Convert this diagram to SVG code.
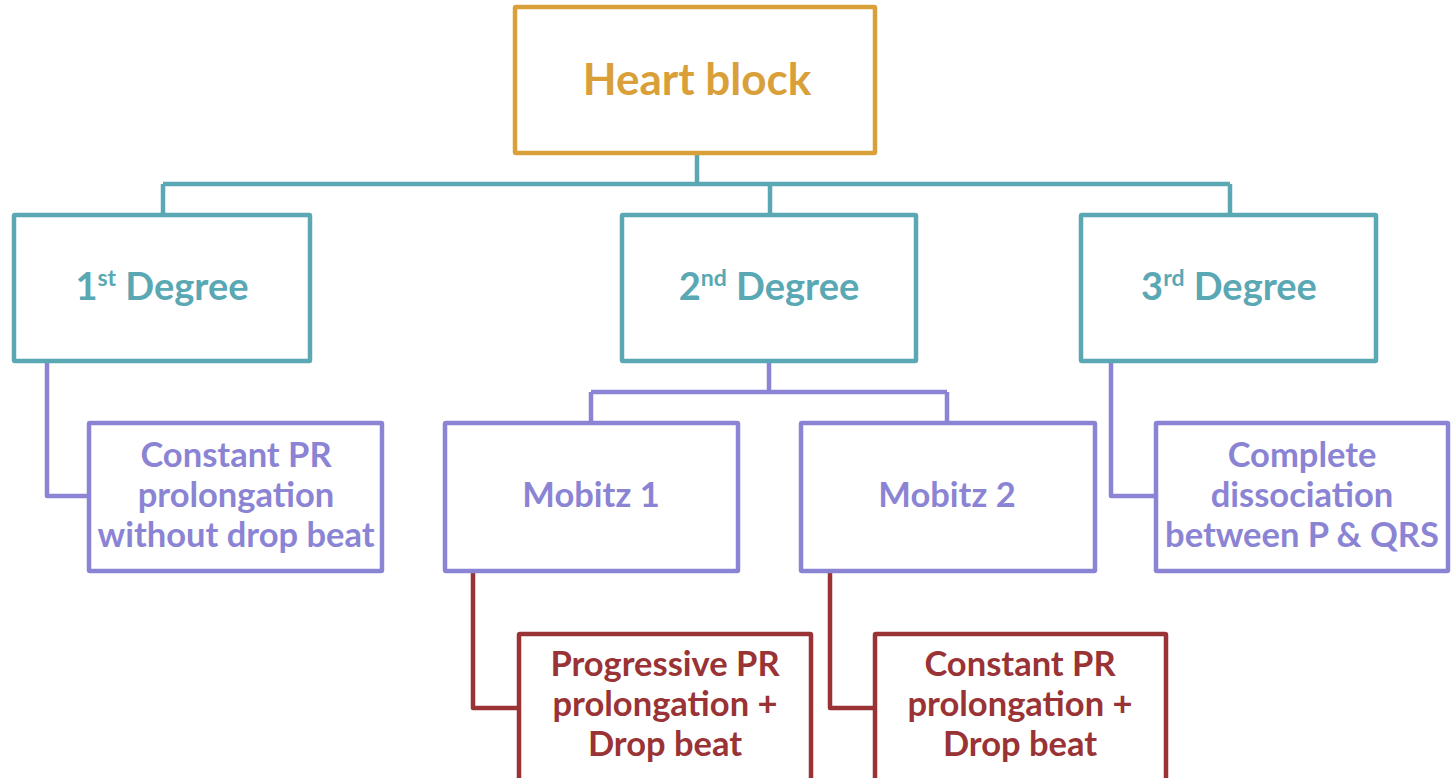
<svg xmlns="http://www.w3.org/2000/svg" width="1451" height="778" viewBox="0 0 1451 778">
<style>
.box{fill:#ffffff;stroke-width:4.5;stroke-linejoin:round}
.gold{stroke:#D9A03A}
.teal{stroke:#59A8B4}
.purple{stroke:#8B84D4}
.red{stroke:#993335}
.ln{fill:none;stroke-width:4.5;stroke-linejoin:round}
text{font-family:Lato,"Liberation Sans",sans-serif;font-weight:bold;text-anchor:middle}
.t0{fill:#D9A03A;font-size:44px}
.t1{fill:#59A8B4;font-size:38px}
.t2{fill:#8B84D4;font-size:34.5px}
.t3{fill:#993335;font-size:34.5px}
</style>
<rect width="1451" height="778" fill="#ffffff"/>
<g id="connectors">
<path class="ln teal" d="M697,153 V184 M163,184 H1230 M163,184 V215 M770,184 V215 M1230,184 V215"/>
<path class="ln purple" d="M47,361 V496 H89"/>
<path class="ln purple" d="M769,361 V392 M591,392 H947 M591,392 V423 M947,392 V423"/>
<path class="ln purple" d="M1111,361 V496 H1156"/>
<path class="ln red" d="M473,571 V708 H517"/>
<path class="ln red" d="M830,571 V708 H873"/>
</g>
<g id="heart-block">
<rect class="box gold" x="515" y="7" width="360" height="146" rx="1"/>
<text class="t0" x="697" y="95">Heart block</text>
</g>
<g id="first-degree">
<rect class="box teal" x="14" y="215" width="296" height="146" rx="1"/>
<text class="t1" x="162" y="300">1<tspan font-size="23" dy="-14">st</tspan><tspan dy="14"> Degree</tspan></text>
</g>
<g id="second-degree">
<rect class="box teal" x="622" y="215" width="294" height="146" rx="1"/>
<text class="t1" x="769" y="300">2<tspan font-size="23" dy="-14">nd</tspan><tspan dy="14"> Degree</tspan></text>
</g>
<g id="third-degree">
<rect class="box teal" x="1081" y="215" width="295" height="146" rx="1"/>
<text class="t1" x="1229" y="300">3<tspan font-size="23" dy="-14">rd</tspan><tspan dy="14"> Degree</tspan></text>
</g>
<g id="constant-pr-1">
<rect class="box purple" x="89" y="423" width="293" height="148" rx="1"/>
<text class="t2" x="236" y="467">Constant PR</text>
<text class="t2" x="236" y="507">prolongation</text>
<text class="t2" x="236" y="547">without drop beat</text>
</g>
<g id="mobitz-1">
<rect class="box purple" x="445" y="423" width="293" height="148" rx="1"/>
<text class="t2" x="591" y="507">Mobitz 1</text>
</g>
<g id="mobitz-2">
<rect class="box purple" x="801" y="423" width="294" height="148" rx="1"/>
<text class="t2" x="947" y="507">Mobitz 2</text>
</g>
<g id="complete-dissociation">
<rect class="box purple" x="1156" y="423" width="292" height="148" rx="1"/>
<text class="t2" x="1302" y="467">Complete</text>
<text class="t2" x="1302" y="507">dissociation</text>
<text class="t2" x="1302" y="547">between P &amp; QRS</text>
</g>
<g id="progressive-pr">
<rect class="box red" x="519" y="634" width="292" height="160" rx="1"/>
<text class="t3" x="665" y="676">Progressive PR</text>
<text class="t3" x="665" y="716">prolongation +</text>
<text class="t3" x="665" y="756">Drop beat</text>
</g>
<g id="constant-pr-2">
<rect class="box red" x="875" y="634" width="291" height="160" rx="1"/>
<text class="t3" x="1020" y="676">Constant PR</text>
<text class="t3" x="1020" y="716">prolongation +</text>
<text class="t3" x="1020" y="756">Drop beat</text>
</g>
</svg>
